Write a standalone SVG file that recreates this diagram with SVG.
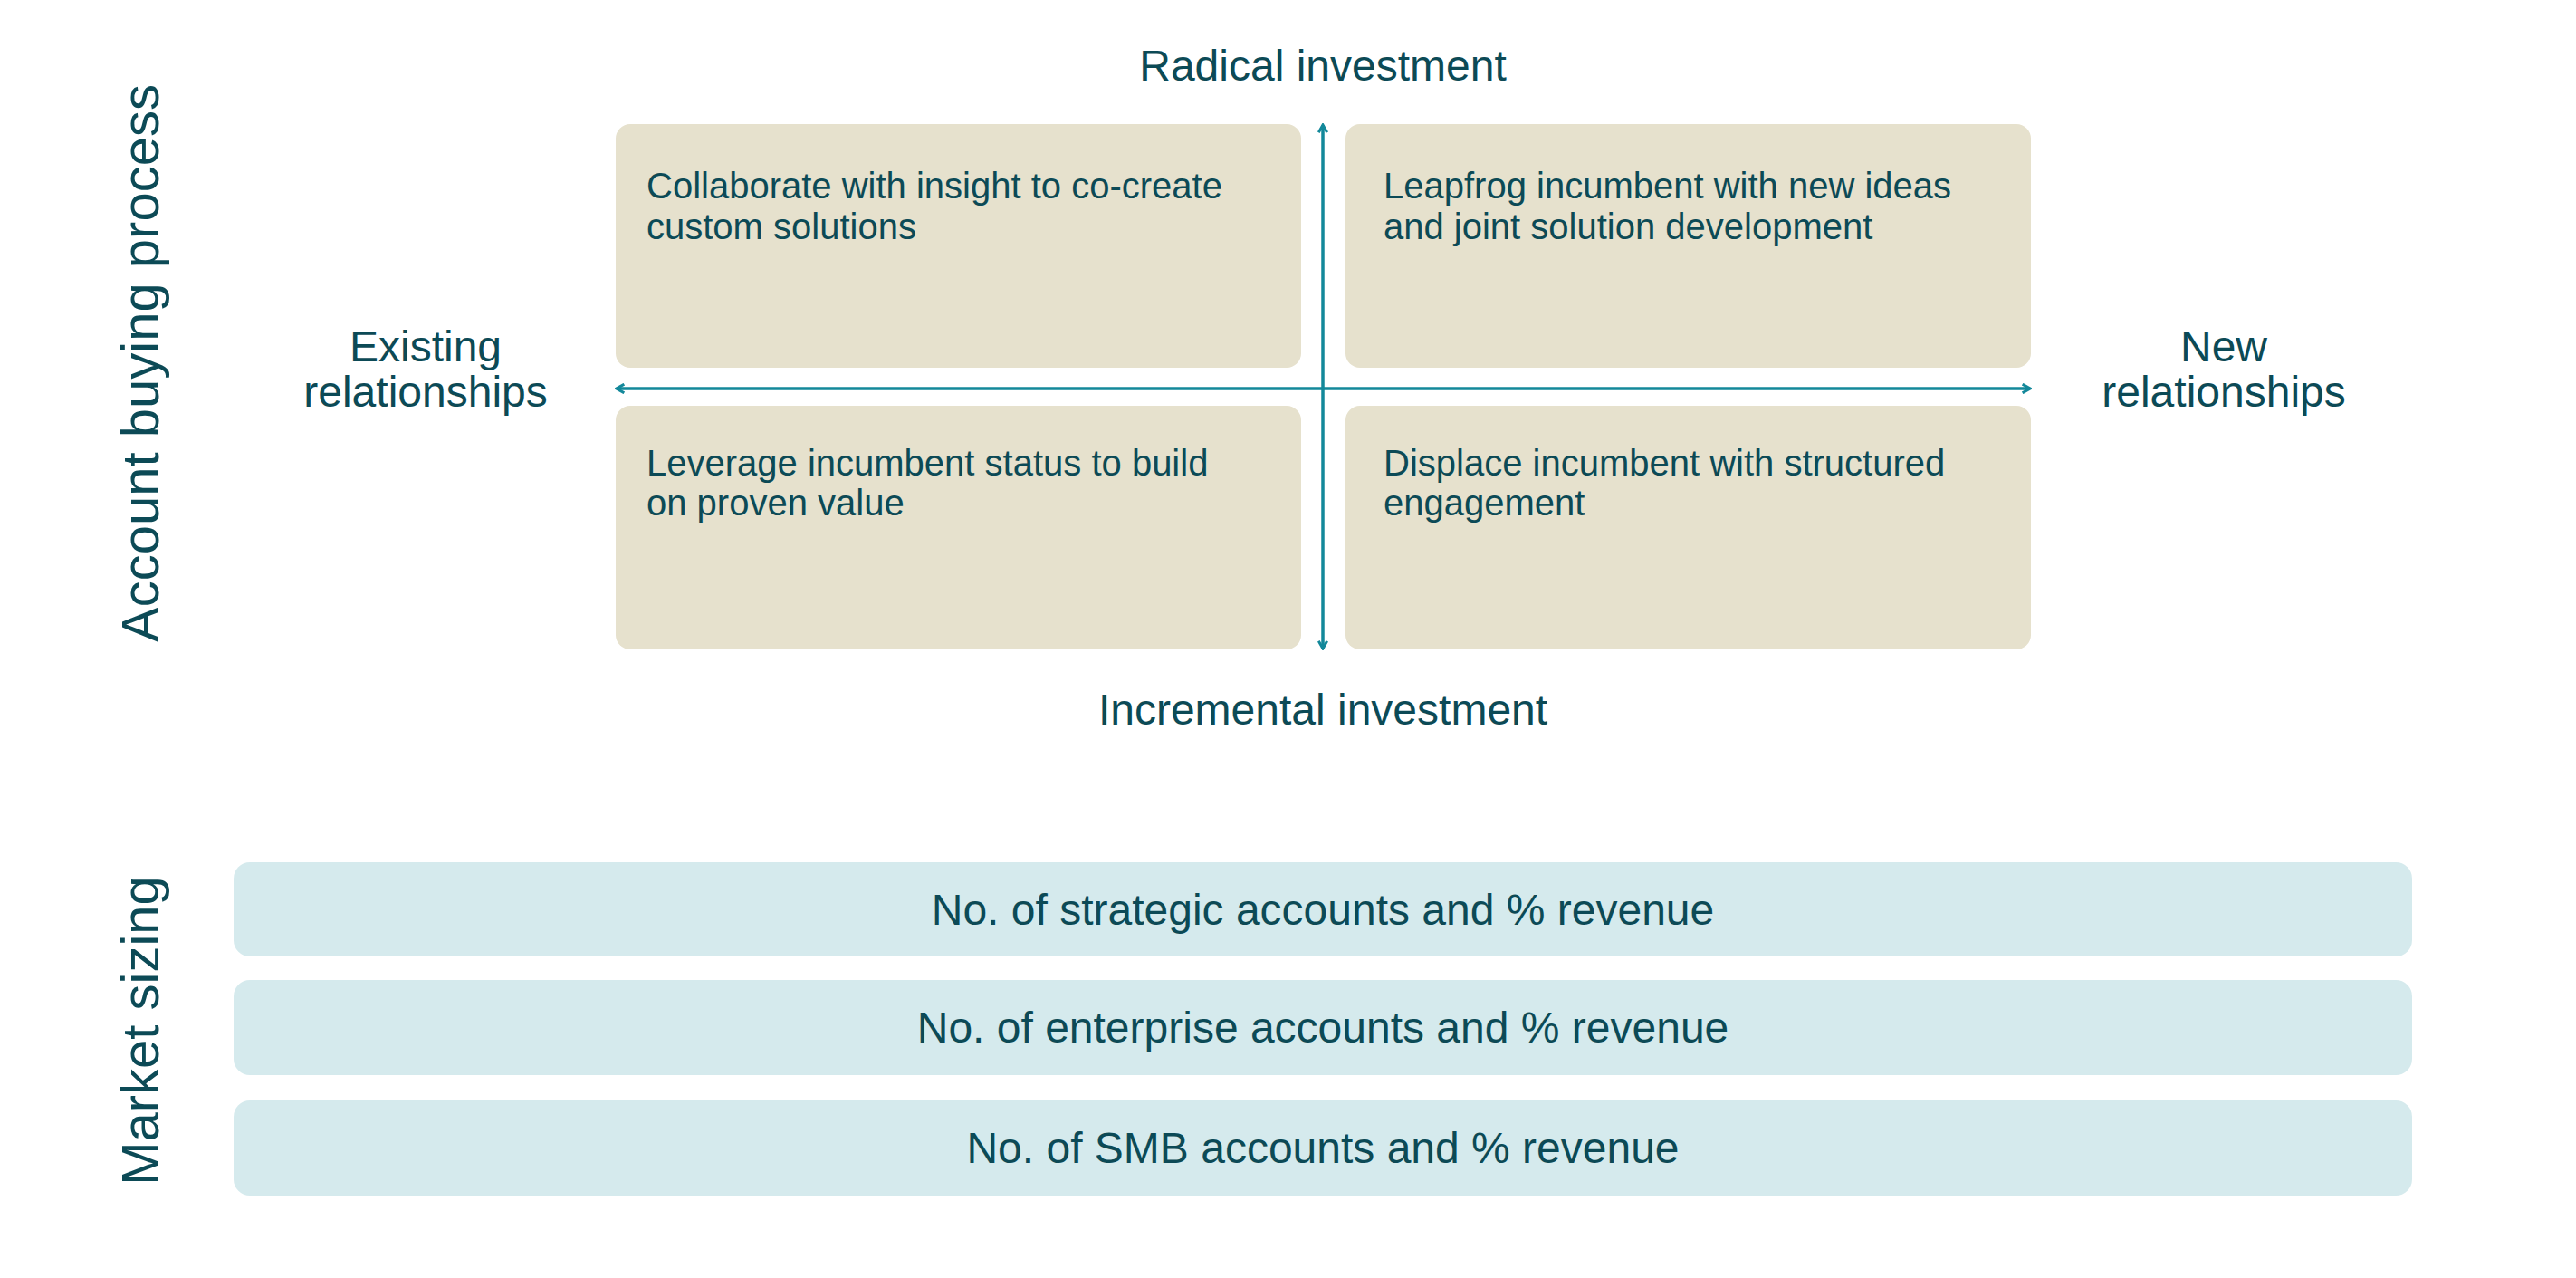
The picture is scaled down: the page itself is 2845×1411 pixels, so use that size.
<svg xmlns="http://www.w3.org/2000/svg" width="2845" height="1411" viewBox="0 0 2845 1411">
<style>
text{font-family:"Liberation Sans",Arial,sans-serif;fill:#0c4a56}
.q{fill:#e6e1cd}
.bar{fill:#d5eaed}
.qt{font-size:40px}
.ax{font-size:48px}
.side{font-size:58px}
.axis{stroke:#13889a;stroke-width:3.5;fill:none}
</style>
<defs>
<marker id="ah" viewBox="0 0 10 10" refX="8" refY="5" markerWidth="3.4" markerHeight="3.4" orient="auto-start-reverse" markerUnits="strokeWidth">
<path d="M1,1 L8,5 L1,9" fill="none" stroke="#13889a" stroke-width="2.6" stroke-linejoin="miter"/>
</marker>
</defs>
<rect width="2845" height="1411" fill="#ffffff"/>
<g id="side-labels">
<text class="side" transform="translate(175,401) rotate(-90)" text-anchor="middle">Account buying process</text>
<text class="side" transform="translate(175,1138) rotate(-90)" text-anchor="middle">Market sizing</text>
</g>
<g id="q-tl"><rect class="q" x="680" y="137" width="757" height="269" rx="16"/>
<text class="qt" x="714" y="219">Collaborate with insight to co-create</text>
<text class="qt" x="714" y="264">custom solutions</text></g>
<g id="q-tr"><rect class="q" x="1486" y="137" width="757" height="269" rx="16"/>
<text class="qt" x="1528" y="219">Leapfrog incumbent with new ideas</text>
<text class="qt" x="1528" y="264">and joint solution development</text></g>
<g id="q-bl"><rect class="q" x="680" y="448" width="757" height="269" rx="16"/>
<text class="qt" x="714" y="525">Leverage incumbent status to build</text>
<text class="qt" x="714" y="569">on proven value</text></g>
<g id="q-br"><rect class="q" x="1486" y="448" width="757" height="269" rx="16"/>
<text class="qt" x="1528" y="525">Displace incumbent with structured</text>
<text class="qt" x="1528" y="569">engagement</text></g>
<g id="connectors">
<line class="axis" x1="1461" y1="716" x2="1461" y2="138" marker-start="url(#ah)" marker-end="url(#ah)"/>
<line class="axis" x1="681" y1="429" x2="2242" y2="429" marker-start="url(#ah)" marker-end="url(#ah)"/>
</g>
<g id="axis-labels">
<text class="ax" x="1461" y="89" text-anchor="middle">Radical investment</text>
<text class="ax" x="1461" y="800" text-anchor="middle">Incremental investment</text>
<text class="ax" x="470" y="399" text-anchor="middle">Existing</text>
<text class="ax" x="470" y="449" text-anchor="middle">relationships</text>
<text class="ax" x="2456" y="399" text-anchor="middle">New</text>
<text class="ax" x="2456" y="449" text-anchor="middle">relationships</text>
</g>
<g id="bar-strategic"><rect class="bar" x="258" y="952" width="2406" height="104" rx="18"/>
<text class="ax" x="1461" y="1021" text-anchor="middle">No. of strategic accounts and % revenue</text></g>
<g id="bar-enterprise"><rect class="bar" x="258" y="1082" width="2406" height="105" rx="18"/>
<text class="ax" x="1461" y="1151" text-anchor="middle">No. of enterprise accounts and % revenue</text></g>
<g id="bar-smb"><rect class="bar" x="258" y="1215" width="2406" height="105" rx="18"/>
<text class="ax" x="1461" y="1284" text-anchor="middle">No. of SMB accounts and % revenue</text></g>
</svg>
